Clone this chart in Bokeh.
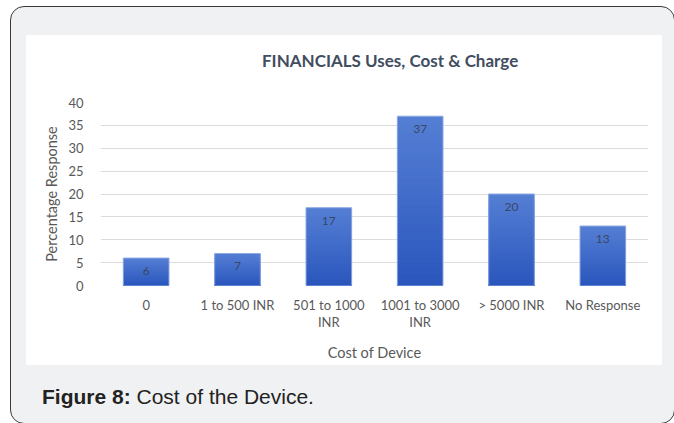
from bokeh.plotting import figure
from bokeh.models import ColumnDataSource, Range1d, Div, Column, LinearAxis, FixedTicker
from bokeh.core.properties import value
from bokeh.embed import file_html
from bokeh.resources import INLINE

# ---- data ----
categories = ["0", "1 to 500 INR", "501 to 1000 INR", "1001 to 3000 INR", "> 5000 INR", "No Response"]
tick_line1 = ["0", "1 to 500 INR", "501 to 1000", "1001 to 3000", "> 5000 INR", "No Response"]
tick_line2 = ["", "", "INR", "INR", "", ""]
percent = [6, 7, 17, 37, 20, 13]
y_ticks = [0, 5, 10, 15, 20, 25, 30, 35, 40]
chart_title = "FINANCIALS Uses, Cost & Charge"
x_title = "Cost of Device"
y_title = "Percentage Response"

FONT = "Lato"
TXT = "#595959"

pos = list(range(len(categories)))

p = figure(x_range=Range1d(-0.5, len(categories) - 0.5), y_range=Range1d(0, 40),
           width=636, height=294, output_backend="svg", toolbar_location=None,
           x_axis_location=None,
           min_border_left=74, min_border_right=14, min_border_top=31, min_border_bottom=80,
           background_fill_color="white", border_fill_color="white", outline_line_color=None,
           margin=(0, 0, 0, 0))

# gradient bars: overlapping slices from base upward, lighter at top
N = 30
top_c = (0x55, 0x7f, 0xd4)
bot_c = (0x2a, 0x56, 0xbd)
xs, tops, cols = [], [], []
for k in range(N - 1, -1, -1):
    t = (k + 0.5) / N
    c = tuple(int(round(bot_c[i] + (top_c[i] - bot_c[i]) * t)) for i in range(3))
    col = "#%02x%02x%02x" % c
    for xi, v in zip(pos, percent):
        xs.append(xi)
        tops.append(v * (k + 1) / N)
        cols.append(col)
src = ColumnDataSource(dict(x=xs, top=tops, color=cols))
p.vbar(x="x", top="top", bottom=0, width=0.5, source=src, fill_color="color", line_color=None)
p.vbar(x=pos, top=percent, bottom=0, width=0.5, fill_color=None,
       line_color="#8eaae2", line_width=1)

# value labels
p.text(x=pos, y=percent, text=[str(v) for v in percent], text_align="center",
       text_baseline="middle", y_offset=13, text_font=value(FONT), text_font_size="12px",
       text_color="#3a4866")

# y axis
p.yaxis.ticker = y_ticks
p.yaxis.axis_line_color = None
p.yaxis.major_tick_line_color = None
p.yaxis.minor_tick_line_color = None
p.yaxis.major_label_standoff = 11
p.yaxis.major_label_text_font = FONT
p.yaxis.major_label_text_font_size = "13px"
p.yaxis.major_label_text_color = TXT
p.yaxis.axis_label = y_title
p.yaxis.axis_label_text_font = FONT
p.yaxis.axis_label_text_font_size = "14.5px"
p.yaxis.axis_label_text_font_style = "normal"
p.yaxis.axis_label_text_color = TXT
p.yaxis.axis_label_standoff = 5


def make_x(labels, standoff):
    ax = LinearAxis(ticker=FixedTicker(ticks=pos, minor_ticks=[]))
    ax.axis_line_color = None
    ax.major_tick_line_color = None
    ax.minor_tick_line_color = None
    ax.major_label_standoff = standoff
    ax.major_label_text_font = FONT
    ax.major_label_text_font_size = "13px"
    ax.major_label_text_color = TXT
    ax.major_label_overrides = {i: s for i, s in zip(pos, labels)}
    return ax


xa = make_x(tick_line1, 5)
p.add_layout(xa, "below")
xa2 = make_x(tick_line2, -8)
xa2.axis_label = x_title
xa2.axis_label_text_font = FONT
xa2.axis_label_text_font_size = "14.5px"
xa2.axis_label_text_font_style = "normal"
xa2.axis_label_text_color = TXT
xa2.axis_label_standoff = 11
p.add_layout(xa2, "below")

p.xgrid.grid_line_color = None
p.ygrid.grid_line_color = "#dcdcdc"
p.ygrid.grid_line_width = 1

title_div = Div(text=chart_title, width=380, height=20, margin=(16, 0, 0, 236),
                styles={"font-family": "Lato, sans-serif", "font-size": "17px",
                        "font-weight": "bold", "color": "#414d60", "line-height": "20px",
                        "white-space": "nowrap"})

white = Column(children=[title_div, p], width=636, height=330, margin=(28, 0, 0, 15),
               styles={"background-color": "white"})

caption = Div(text="<b>Figure 8:</b> Cost of the Device.",
              styles={"font-family": "'Liberation Sans', Arial, sans-serif",
                      "font-size": "21px", "color": "#222222", "line-height": "24px"},
              margin=(20, 0, 0, 31))

outer = Column(children=[white, caption], width=665, height=418, margin=(6, 0, 0, 10),
               styles={"background-color": "#f0f1f3", "border": "1.5px solid #3a3a3a",
                       "border-radius": "14px", "box-sizing": "border-box"})

open("out.html", "w").write(file_html(outer, INLINE))
